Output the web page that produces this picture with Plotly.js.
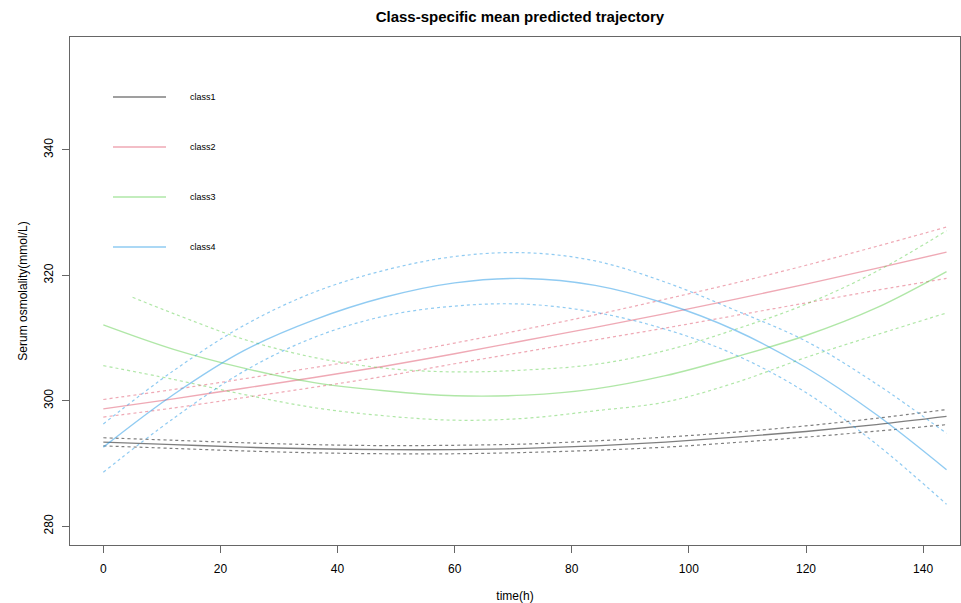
<!DOCTYPE html>
<html>
<head>
<meta charset="utf-8">
<script src="https://cdn.plot.ly/plotly-3.0.1.min.js"></script>
<style>html,body{margin:0;padding:0;background:#fff;}#chart{width:961px;height:603px;}</style>
</head>
<body>
<div id="chart"></div>
<script>
// ---- data ----
const timeH = [0, 12, 24, 36, 48, 60, 72, 84, 96, 108, 120, 132, 144];
const timeUp3 = [5, 12, 24, 36, 48, 60, 72, 84, 96, 108, 120, 132, 144];
const classNames = ["class1", "class2", "class3", "class4"];

const class1Mean  = [293.4, 293.0, 292.6, 292.35, 292.2, 292.2, 292.4, 292.8, 293.4, 294.2, 295.1, 296.2, 297.5];
const class1Upper = [294.1, 293.7, 293.3, 293.0, 292.85, 292.9, 293.1, 293.6, 294.2, 295.0, 296.0, 297.2, 298.6];
const class1Lower = [292.8, 292.4, 292.0, 291.7, 291.55, 291.55, 291.75, 292.1, 292.6, 293.35, 294.2, 295.15, 296.2];

const class2Mean  = [298.7, 300.3, 302.0, 303.7, 305.5, 307.5, 309.6, 311.7, 313.9, 316.2, 318.6, 321.1, 323.7];
const class2Upper = [300.2, 301.8, 303.5, 305.3, 307.1, 309.2, 311.4, 313.7, 316.2, 318.8, 321.6, 324.6, 327.7];
const class2Lower = [297.4, 298.85, 300.5, 302.15, 303.9, 305.9, 307.8, 309.7, 311.6, 313.6, 315.6, 317.6, 319.5];

const class3Mean  = [312.1, 308.2, 305.2, 302.9, 301.6, 300.8, 300.9, 301.9, 304.0, 307.0, 310.4, 314.8, 320.6];
const class3Upper = [316.5, 313.9, 309.8, 306.9, 305.2, 304.6, 304.9, 305.8, 308.0, 311.4, 315.4, 320.6, 327.1];
const class3Lower = [305.6, 303.4, 301.0, 298.9, 297.6, 296.9, 297.2, 298.4, 299.8, 302.9, 306.9, 310.5, 314.0];

const class4Mean  = [292.6, 301.0, 308.0, 312.9, 316.5, 318.8, 319.5, 318.4, 315.5, 311.2, 305.3, 297.8, 289.0];
const class4Upper = [296.3, 304.8, 312.0, 317.3, 320.8, 323.0, 323.6, 322.3, 318.9, 314.4, 309.5, 302.7, 294.8];
const class4Lower = [288.6, 297.2, 304.7, 310.1, 313.5, 315.1, 315.4, 314.1, 311.4, 307.3, 301.3, 293.1, 283.5];

const xTicks = [0, 20, 40, 60, 80, 100, 120, 140];
const yTicks = [280, 300, 320, 340];

// ---- styling ----
const colors = ["rgba(0,0,0,0.5)", "rgba(223,83,107,0.5)", "rgba(97,208,79,0.5)", "rgba(34,151,230,0.5)"];
const FONT = "Liberation Sans, Arial, sans-serif";

const series = [
  {x: timeH, mean: class1Mean, upX: timeH, up: class1Upper, lo: class1Lower},
  {x: timeH, mean: class2Mean, upX: timeH, up: class2Upper, lo: class2Lower},
  {x: timeH, mean: class3Mean, upX: timeUp3, up: class3Upper, lo: class3Lower},
  {x: timeH, mean: class4Mean, upX: timeH, up: class4Upper, lo: class4Lower}
];

const traces = [];
series.forEach((s, i) => {
  traces.push({x: s.x, y: s.mean, type: "scatter", mode: "lines", name: classNames[i], showlegend: false,
    line: {color: colors[i], width: 1.4, shape: "spline", smoothing: 1}, hoverinfo: "x+y+name"});
  traces.push({x: s.upX, y: s.up, type: "scatter", mode: "lines", name: classNames[i] + " upper", showlegend: false,
    line: {color: colors[i], width: 1.2, dash: "3px,3px", shape: "spline", smoothing: 1}});
  traces.push({x: s.x, y: s.lo, type: "scatter", mode: "lines", name: classNames[i] + " lower", showlegend: false,
    line: {color: colors[i], width: 1.2, dash: "3px,3px", shape: "spline", smoothing: 1}});
});

// legend drawn as in the original (inside the plot, wide spacing)
const shapes = [];
const annotations = [];
classNames.forEach((nm, i) => {
  const yy = 0.8819 - i * 0.0984;
  shapes.push({type: "line", xref: "paper", yref: "paper", x0: 0.0483, x1: 0.1079, y0: yy, y1: yy,
    line: {color: colors[i], width: 1.6}});
  annotations.push({xref: "paper", yref: "paper", x: 0.1326, y: yy, xanchor: "left", yanchor: "middle",
    text: nm, showarrow: false, font: {family: FONT, size: 9, color: "#000"}});
});

const layout = {
  width: 961, height: 603,
  margin: {l: 70, r: 1, t: 37, b: 58},
  paper_bgcolor: "#fff", plot_bgcolor: "#fff",
  font: {family: FONT, color: "#000", size: 12},
  title: {text: "<b>Class-specific mean predicted trajectory</b>", font: {family: FONT, size: 15, color: "#000"},
    x: 0.541, xanchor: "center", y: 0.972, yanchor: "middle"},
  xaxis: {
    range: [-5.69, 146.3], tickvals: xTicks, ticktext: xTicks.map(String),
    showgrid: false, zeroline: false, showline: true, mirror: true, linecolor: "#666", linewidth: 1,
    ticks: "outside", ticklen: 7, tickcolor: "#666", tickfont: {family: FONT, size: 12, color: "#000"},
    ticklabelstandoff: 6,
    title: {text: "time(h)", font: {family: FONT, size: 12, color: "#000"}, standoff: 18}
  },
  yaxis: {
    range: [277, 358], tickvals: yTicks, ticktext: yTicks.map(String), tickangle: -90,
    showgrid: false, zeroline: false, showline: true, mirror: true, linecolor: "#666", linewidth: 1,
    ticks: "outside", ticklen: 7, tickcolor: "#666", tickfont: {family: FONT, size: 12, color: "#000"},
    ticklabelstandoff: 4,
    title: {text: "Serum osmolality(mmol/L)", font: {family: FONT, size: 12, color: "#000"}, standoff: 12}
  },
  shapes: shapes,
  annotations: annotations,
  showlegend: false
};

Plotly.newPlot("chart", traces, layout, {displayModeBar: false, staticPlot: true});
</script>
</body>
</html>
